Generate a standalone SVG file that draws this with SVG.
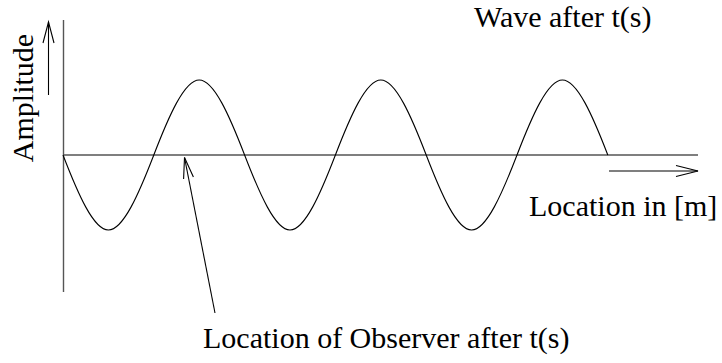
<svg xmlns="http://www.w3.org/2000/svg" width="722" height="363" viewBox="0 0 722 363">
<style>
.axis{stroke:#555;stroke-width:1.4;fill:none}
.ln{stroke:#000;stroke-width:1.1;fill:none;stroke-linejoin:miter}
.t{font-family:"Liberation Serif","Times New Roman",serif;font-size:30px;fill:#000}
</style>
<rect width="722" height="363" fill="#fff"/>
<g id="axes">
<line class="axis" x1="63.5" y1="20" x2="63.5" y2="292"/>
<line class="axis" x1="63" y1="155" x2="698" y2="155"/>
</g>
<g id="wave">
<path class="ln" d="M63,155 c14.77,38.33 30.54,75 45.4,75 c14.86,0 30.63,-36.67 45.4,-75 c14.77,-38.33 30.54,-75 45.4,-75 c14.86,0 30.63,36.67 45.4,75 c14.77,38.33 30.54,75 45.4,75 c14.86,0 30.63,-36.67 45.4,-75 c14.77,-38.33 30.54,-75 45.4,-75 c14.86,0 30.63,36.67 45.4,75 c14.77,38.33 30.54,75 45.4,75 c14.86,0 30.63,-36.67 45.4,-75 c14.77,-38.33 30.54,-75 45.4,-75 c14.86,0 30.63,36.67 45.4,75"/>
</g>
<g id="connectors">
<line class="ln" x1="48.5" y1="95" x2="48.5" y2="22"/>
<polyline class="ln" points="43,43 48.5,22 54,43"/>
<line class="ln" x1="609" y1="171" x2="698" y2="171"/>
<polyline class="ln" points="676,165.5 698,171 676,176.5"/>
<line class="ln" x1="215" y1="313" x2="184.5" y2="157.5"/>
<polyline class="ln" points="183.6,179.1 184.5,157.5 193.4,177.1"/>
</g>
<g id="label-amplitude">
<text class="t" transform="translate(33,98) rotate(-90)" text-anchor="middle">Amplitude</text>
</g>
<g id="label-wave">
<text class="t" x="474" y="27">Wave after t(s)</text>
</g>
<g id="label-location">
<text class="t" x="529" y="216">Location in [m]</text>
</g>
<g id="label-observer">
<text class="t" x="203" y="348">Location of Observer after t(s)</text>
</g>
</svg>
